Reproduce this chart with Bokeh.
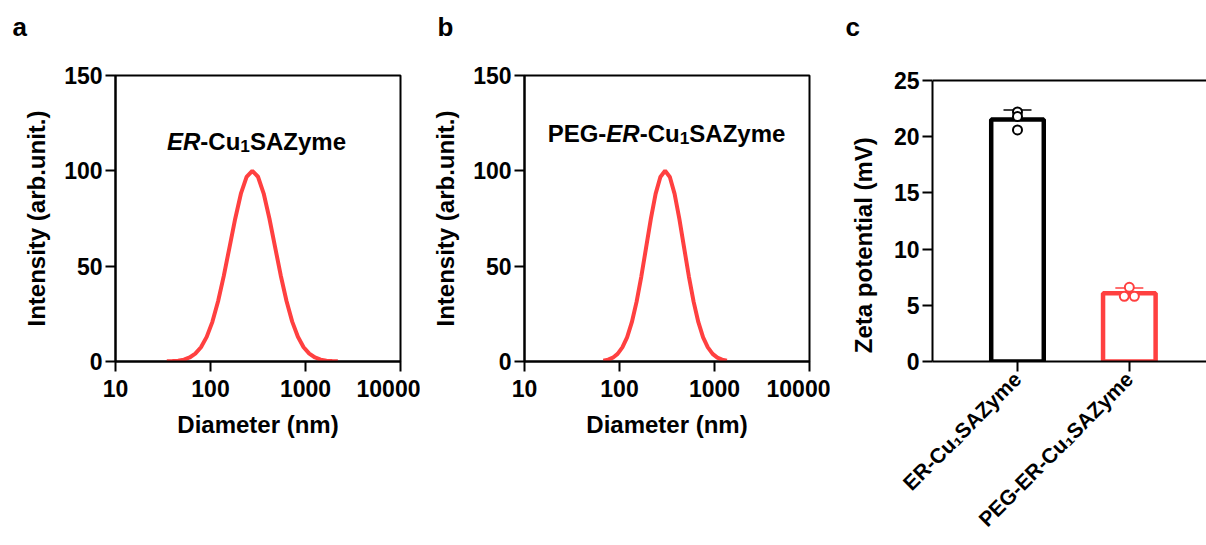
import math
import re
import numpy as np
from bokeh.plotting import figure
from bokeh.layouts import row
from bokeh.models import (Label, FixedTicker, Range1d, Whisker, TeeHead, Span,
                          ColumnDataSource, PrintfTickFormatter)
from bokeh.embed import file_html
from bokeh.resources import INLINE

FONT = "Liberation Sans"
RED = "#ff4040"

# ---------------- data ----------------
diameter_a = [34.7, 39.8, 45.7, 52.5, 60.3, 69.2, 79.4, 91.2, 104.7, 120.2, 138.0, 158.5,
              182.0, 208.9, 239.9, 275.4, 316.2, 363.1, 416.9, 478.6, 549.5, 631.0, 724.4,
              831.8, 955.0, 1096, 1259, 1445, 1660, 1905, 2188]
intensity_a = [0.1, 0.2, 0.4, 1.0, 2.1, 4.1, 7.5, 12.9, 20.8, 31.6, 44.9, 59.9, 74.9, 88.0,
               96.8, 100.0, 96.9, 88.1, 75.0, 60.0, 45.0, 31.7, 20.9, 13.0, 7.5, 4.1, 2.1,
               1.0, 0.4, 0.2, 0.1]
diameter_b = [67.6, 75.9, 85.1, 95.5, 107.2, 120.2, 134.9, 151.4, 169.8, 190.5, 213.8, 239.9,
              269.2, 302.0, 338.8, 380.2, 426.6, 478.6, 537.0, 602.6, 676.1, 758.6, 851.1,
              955.0, 1072, 1202, 1349]
intensity_b = [0.4, 1.0, 2.0, 4.0, 7.4, 12.7, 20.6, 31.4, 44.7, 59.7, 74.8, 87.9, 96.8, 100.0,
               96.8, 87.9, 74.8, 59.7, 44.7, 31.4, 20.6, 12.7, 7.4, 4.0, 2.0, 1.0, 0.4]
sample_a = "ER-Cu1SAZyme"
sample_b = "PEG-ER-Cu1SAZyme"
dls_x_ticks = [10, 100, 1000, 10000]
dls_y_ticks = [0, 50, 100, 150]
dls_xlabel = "Diameter (nm)"
dls_ylabel = "Intensity (arb.unit.)"

zeta_groups = ["ER-Cu\u2081SAZyme", "PEG-ER-Cu\u2081SAZyme"]
zeta_er = [22.2, 21.8, 20.6]
zeta_peg = [6.6, 5.8, 5.8]
zeta_ticks = [0, 5, 10, 15, 20, 25]
zeta_ylabel = "Zeta potential (mV)"
panel_letters = ["a", "b", "c"]

# ---------------- text helpers ----------------
W = {" ": 278, "-": 333, "(": 333, ")": 333, ".": 278, "A": 722, "C": 722, "E": 667,
     "G": 778, "P": 667, "R": 722, "S": 667, "Z": 611, "a": 556, "e": 556, "m": 889,
     "u": 611, "y": 556}
SUB = 0.72
SHIFT = 0.2


def tw(s, size):
    return sum(W.get(ch, 556) for ch in s) * size / 1000.0


def pieces_of(name, italic=True):
    out = []
    for tok in re.split(r"(ER|1)", name):
        if not tok:
            continue
        if tok == "ER":
            out.append((tok, "i" if italic else "n"))
        elif tok == "1":
            out.append((tok, "sub"))
        else:
            out.append((tok, "n"))
    return out


def rich(p, x, y, pieces, size):
    sizes = [size * SUB if k == "sub" else size for t, k in pieces]
    widths = [tw(t, s) for (t, k), s in zip(pieces, sizes)]
    pos = -sum(widths) / 2
    for (t, k), s, w in zip(pieces, sizes, widths):
        up = -SHIFT * size if k == "sub" else 0.0
        p.add_layout(Label(x=x, y=y, text=t, x_offset=pos, y_offset=up,
                           text_align="left", text_baseline="alphabetic",
                           text_font=FONT, text_font_size=f"{s:.1f}px",
                           text_font_style="bold italic" if k == "i" else "bold",
                           text_color="black"))
        pos += w


def style_axis(ax):
    ax.axis_line_width = 2
    ax.axis_line_color = "black"
    ax.major_tick_line_width = 2
    ax.major_tick_line_color = "black"
    ax.major_tick_out = 10
    ax.major_tick_in = 0
    ax.minor_tick_line_color = None
    ax.major_label_text_font = FONT
    ax.major_label_text_font_style = "bold"
    ax.major_label_text_font_size = "23px"
    ax.major_label_text_color = "black"
    ax.major_label_standoff = 3
    ax.axis_label_text_font = FONT
    ax.axis_label_text_font_style = "bold"
    ax.axis_label_text_font_size = "24px"
    ax.axis_label_text_color = "black"
    ax.axis_label_standoff = 11


def letter_title(p, letter, offset):
    # second (empty) line lifts the letter towards the top edge of the canvas
    p.title.text = letter + "\n"
    p.title.align = "left"
    p.title.offset = offset
    p.title.standoff = 8
    p.title.text_font = FONT
    p.title.text_font_style = "bold"
    p.title.text_font_size = "26px"
    p.title.text_color = "black"


H = 545
FT, FB = 75, 361  # frame top / bottom


def dls_panel(width, left, right, diam, inten, sample, letter, title_px, letter_x):
    p = figure(width=width, height=H, x_axis_type="log", x_range=Range1d(10, 10000),
               y_range=Range1d(0, 150), output_backend="svg", toolbar_location=None,
               min_border_left=left, min_border_right=right, min_border_top=FT,
               min_border_bottom=H - FB)
    p.grid.visible = False
    p.outline_line_color = "black"
    p.outline_line_width = 2
    p.outline_line_alpha = 1
    p.background_fill_color = "white"
    p.border_fill_color = "white"
    p.xaxis.ticker = FixedTicker(ticks=dls_x_ticks)
    p.xaxis.formatter = PrintfTickFormatter(format="%d")
    p.yaxis.ticker = FixedTicker(ticks=dls_y_ticks)
    p.xaxis.axis_label = dls_xlabel
    p.yaxis.axis_label = dls_ylabel
    for ax in p.axis:
        style_axis(ax)
    p.xaxis.major_label_standoff = 8
    p.xaxis.axis_label_standoff = 11
    p.line(diam, inten, line_color=RED, line_width=4, line_alpha=1)

    fw = width - left - right
    tx = 10 ** (1 + 3 * (title_px[0] - left) / fw)
    ty = 150 * (FB - title_px[1]) / (FB - FT)
    rich(p, tx, ty, pieces_of(sample), 24)
    letter_title(p, letter, letter_x - left)
    return p


pa = dls_panel(420, 115, 20, diameter_a, intensity_a, sample_a, panel_letters[0],
               (256, 140.5), 12)
pb = dls_panel(410, 104, 21, diameter_b, intensity_b, sample_b, panel_letters[1],
               (246, 133), 17)

# ---------------- panel c ----------------
C25 = 80          # pixel row of the value 25
c_left = 102
c_width = 376
x_lo, x_hi = 0.24, 2.69
y_top = 25 * (FB - FT) / (FB - C25)
pc = figure(width=c_width, height=H, x_range=Range1d(x_lo, x_hi), y_range=Range1d(0, y_top),
            output_backend="svg", toolbar_location=None, min_border_left=c_left,
            min_border_right=0, min_border_top=FT, min_border_bottom=H - FB)
pc.grid.visible = False
pc.outline_line_color = None
pc.background_fill_color = "white"
pc.border_fill_color = "white"
pc.yaxis.ticker = FixedTicker(ticks=zeta_ticks)
pc.yaxis.bounds = (zeta_ticks[0], zeta_ticks[-1])
pc.yaxis.axis_label = zeta_ylabel + "\u00a0" * 8
xpos = list(range(1, len(zeta_groups) + 1))
pc.xaxis.ticker = FixedTicker(ticks=xpos)
pc.xaxis.major_label_overrides = {x: g for x, g in zip(xpos, zeta_groups)}
for ax in pc.axis:
    style_axis(ax)
pc.xaxis.major_label_text_font_size = "21px"
pc.xaxis.major_label_orientation = math.pi / 4
pc.xaxis.major_label_standoff = 4
pc.yaxis.axis_label_standoff = 14
pc.add_layout(Span(location=zeta_ticks[-1], dimension="width", line_color="black",
                   line_width=2))
letter_title(pc, panel_letters[2], 15 - c_left)

colors = ["black", RED]
reps = [zeta_er, zeta_peg]
means = [float(np.mean(r)) for r in reps]
sds = [float(np.std(r, ddof=1)) for r in reps]
pc.vbar(x=xpos, top=means, bottom=0, width=0.47, fill_color="white", line_color=colors,
        line_width=4.5)

for xi, r, col in zip(xpos, reps, colors):
    vals = np.array(r)
    offs = np.zeros(len(vals))
    for v in np.unique(vals):
        idx = np.where(np.isclose(vals, v))[0]
        if len(idx) > 1:
            offs[idx] = (np.arange(len(idx)) - (len(idx) - 1) / 2) * 0.09
    pc.scatter(x=list(xi + offs), y=list(vals), marker="circle", size=9, fill_color="white",
               line_color=col, line_width=2)

for i, col in enumerate(colors):
    src = ColumnDataSource(dict(x=[xpos[i]], lo=[means[i] - sds[i]], hi=[means[i] + sds[i]]))
    wh = Whisker(source=src, base="x", lower="lo", upper="hi", dimension="height",
                 line_color=col, line_width=1.5,
                 upper_head=TeeHead(size=28, line_color=col, line_width=1.5),
                 lower_head=TeeHead(size=28, line_color=col, line_width=1.5))
    pc.add_layout(wh)

layout = row(pa, pb, pc, spacing=0)
open("out.html", "w").write(file_html(layout, INLINE))
